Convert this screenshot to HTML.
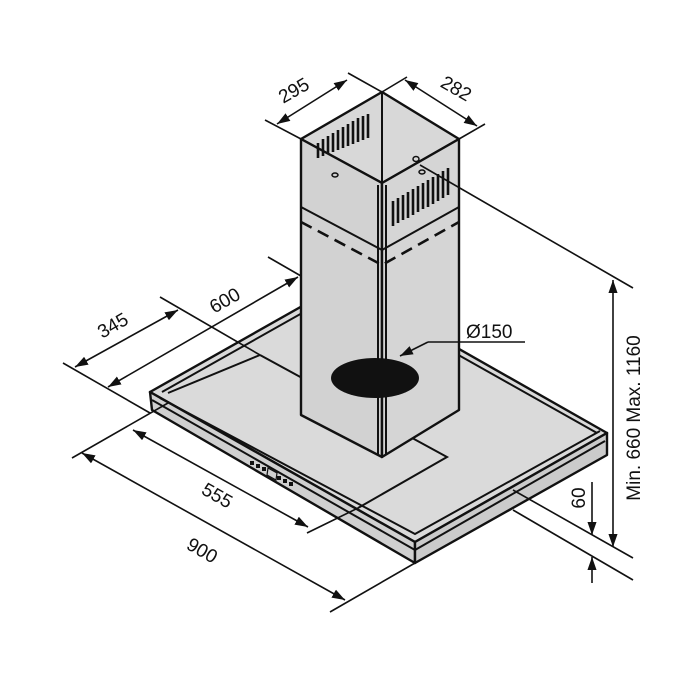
<!DOCTYPE html>
<html><head><style>html,body{margin:0;padding:0;background:#fff}svg{display:block}</style></head><body>
<svg width="700" height="700" viewBox="0 0 700 700" xmlns="http://www.w3.org/2000/svg" font-family="Liberation Sans, sans-serif" font-size="19">
<defs><marker id="a" viewBox="0 0 10 10" refX="10" refY="5" markerWidth="13" markerHeight="13" markerUnits="userSpaceOnUse" orient="auto-start-reverse"><path d="M0,1.5 L10,5 L0,8.5z" fill="#111"/></marker></defs>
<!-- hood -->
<g stroke="#111" stroke-width="2.4" stroke-linejoin="round">
<polygon points="150,392 343,283 607,433 415,542" fill="#dadada"/>
<polygon points="150,392 415,542 415,563 152,410" fill="#d0d0d0"/>
<polygon points="415,542 607,433 607,455 415,563" fill="#cbcbcb"/>
</g>
<g stroke="#111" stroke-width="2" fill="none">
<polyline points="162,392 343,290 597,433"/>
<polyline points="160,398 415,534 600,431"/>
<line x1="152" y1="400" x2="415" y2="550"/>
<line x1="415" y1="550" x2="605" y2="441"/>
<polyline points="260,355 447,457 358,508"/>
<line x1="168" y1="393" x2="260" y2="355"/>
</g>
<g fill="#111"><rect x="250" y="461" width="4" height="4"/><rect x="256" y="464" width="4" height="4"/><rect x="262" y="467" width="4" height="4"/><rect x="277" y="476" width="4" height="4"/><rect x="283" y="479" width="4" height="4"/><rect x="289" y="482" width="4" height="4"/></g>
<polygon points="268,468 277,473 276,480 267,475" fill="none" stroke="#111" stroke-width="1.2"/>
<!-- chimney -->
<g stroke="#111" stroke-width="2.4" stroke-linejoin="round">
<polygon points="301,139 382,92 459,139 382,183" fill="#d8d8d8"/>
<polygon points="301,139 382,183 382,457 301,415" fill="#d2d2d2"/>
<polygon points="382,183 459,139 459,410 382,457" fill="#d5d5d5"/>
</g>
<g stroke="#111" stroke-width="2" fill="none">
<line x1="382" y1="92" x2="382" y2="183"/>
<line x1="378" y1="185" x2="378" y2="455"/><line x1="386" y1="185" x2="386" y2="455"/>
<polyline points="301,207 382,250 459,207"/>
<polyline points="301,222 382,265 459,222" stroke-dasharray="12,7" stroke-width="2.6"/>
</g>
<g stroke="#111" stroke-width="2.6">
<line x1="318" y1="143" x2="318" y2="158"/><line x1="323" y1="139" x2="323" y2="156"/><line x1="328" y1="136" x2="328" y2="154"/><line x1="333" y1="133" x2="333" y2="152"/><line x1="338" y1="130" x2="338" y2="150"/><line x1="343" y1="127" x2="343" y2="148"/><line x1="348" y1="124" x2="348" y2="146"/><line x1="353" y1="121" x2="353" y2="144"/><line x1="358" y1="118" x2="358" y2="142"/><line x1="363" y1="116" x2="363" y2="140"/><line x1="368" y1="114" x2="368" y2="138"/>
<line x1="393" y1="201" x2="393" y2="226"/><line x1="398" y1="198" x2="398" y2="223"/><line x1="403" y1="195" x2="403" y2="220"/><line x1="408" y1="192" x2="408" y2="218"/><line x1="413" y1="189" x2="413" y2="215"/><line x1="418" y1="186" x2="418" y2="212"/><line x1="423" y1="183" x2="423" y2="209"/><line x1="428" y1="180" x2="428" y2="207"/><line x1="433" y1="177" x2="433" y2="204"/><line x1="438" y1="174" x2="438" y2="201"/><line x1="443" y1="171" x2="443" y2="198"/><line x1="448" y1="168" x2="448" y2="195"/>
</g>
<ellipse cx="335" cy="175" rx="3" ry="2" fill="none" stroke="#111" stroke-width="1.5"/>
<ellipse cx="416" cy="159" rx="3" ry="2.5" fill="none" stroke="#111" stroke-width="1.5"/>
<ellipse cx="422" cy="172" rx="3" ry="2" fill="none" stroke="#111" stroke-width="1.5"/>
<ellipse cx="375" cy="378" rx="44" ry="20" fill="#111"/>
<!-- dimension lines -->
<g stroke="#111" stroke-width="1.6" fill="none">
<line x1="265" y1="120" x2="301" y2="139"/><line x1="348" y1="73" x2="382" y2="92"/>
<line x1="277" y1="124" x2="347" y2="80" marker-start="url(#a)" marker-end="url(#a)"/>
<line x1="382" y1="92" x2="407" y2="77"/><line x1="459" y1="139" x2="485" y2="124"/>
<line x1="405" y1="80" x2="477" y2="126" marker-start="url(#a)" marker-end="url(#a)"/>
<line x1="420" y1="165" x2="633" y2="288"/>
<line x1="613" y1="280" x2="613" y2="547" marker-start="url(#a)" marker-end="url(#a)"/>
<line x1="513" y1="490" x2="633" y2="558"/><line x1="513" y1="510" x2="633" y2="580"/>
<line x1="592" y1="482" x2="592" y2="535" marker-end="url(#a)"/>
<line x1="592" y1="583" x2="592" y2="557" marker-end="url(#a)"/>
<line x1="525" y1="342" x2="428" y2="342"/>
<line x1="428" y1="342" x2="400" y2="356" marker-end="url(#a)"/>
<line x1="268" y1="257" x2="301" y2="276"/>
<line x1="108" y1="387" x2="298" y2="277" marker-start="url(#a)" marker-end="url(#a)"/>
<line x1="160" y1="297" x2="260" y2="355"/>
<line x1="63" y1="363" x2="150" y2="413"/>
<line x1="75" y1="367" x2="178" y2="310" marker-start="url(#a)" marker-end="url(#a)"/>
<line x1="72" y1="458" x2="168" y2="403"/>
<line x1="133" y1="430" x2="308" y2="527" marker-start="url(#a)" marker-end="url(#a)"/>
<line x1="307" y1="533" x2="358" y2="508"/>
<line x1="82" y1="453" x2="345" y2="600" marker-start="url(#a)" marker-end="url(#a)"/>
<line x1="415" y1="563" x2="330" y2="612"/>
</g>
<g fill="#111">
<text x="0" y="0" text-anchor="middle" transform="translate(297,96) rotate(-30)">295</text>
<text x="0" y="0" text-anchor="middle" transform="translate(453,94) rotate(30)">282</text>
<text x="0" y="0" text-anchor="middle" transform="translate(228,306) rotate(-30)">600</text>
<text x="0" y="0" text-anchor="middle" transform="translate(116,331) rotate(-30)">345</text>
<text x="0" y="0" text-anchor="middle" transform="translate(214,501) rotate(30)">555</text>
<text x="0" y="0" text-anchor="middle" transform="translate(199,556) rotate(30)">900</text>
<text x="0" y="0" text-anchor="middle" transform="translate(640,418) rotate(-90)">Min. 660 Max. 1160</text>
<text x="0" y="0" text-anchor="middle" transform="translate(585,498) rotate(-90)">60</text>
<text x="466" y="338">Ø150</text>
</g>
</svg>
</body></html>
